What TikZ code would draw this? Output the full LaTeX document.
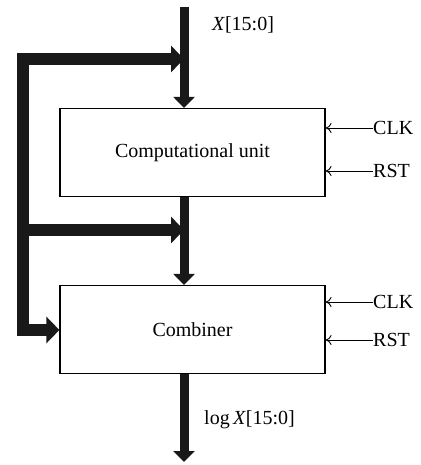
\documentclass[tikz,border=0pt]{standalone}
\usepackage{fontspec}
\setmainfont{Liberation Serif}
\usetikzlibrary{arrows.meta, positioning, calc}
\tikzset{
  unit/.style={rectangle, draw=black, line width=1.2pt, fill=white, minimum width=265pt, minimum height=88pt, inner sep=0pt, font=\fontsize{20}{24}\selectfont},
  data/.style={draw=black!90, line width=9pt, -{Triangle[length=11pt, width=21pt]}},
  bus/.style={draw=black!90, line width=12pt, miter limit=4, -{Triangle[length=13pt, width=26pt]}},
  ctrl/.style={draw=black, line width=0.9pt, -{To[length=6pt, width=10pt]}},
  lbl/.style={font=\fontsize{20}{24}\selectfont, inner sep=0pt},
}
\begin{document}
\begin{tikzpicture}[x=1pt, y=-1pt]
\useasboundingbox (0,0) rectangle (420,465);
% blocks
\node[unit] (comp) at (192.5,152.5) {Computational unit};
\node[unit] (comb) at (192.5,329.5) {Combiner};
% data path
\coordinate (xin) at (184,7);
\coordinate (xout) at (184,462);
\draw[data] (xin) -- (xin |- comp.north);
\draw[data] (xin |- comp.south) -- (xin |- comb.north);
\draw[data] (xin |- comb.south) -- (xout);
\node[lbl, anchor=west] (xlab) at (212,25) {\textit{X}[15:0]};
\node[lbl, anchor=west] (loglab) at (204,420) {log\,\textit{X}[15:0]};
% feedback bus
\coordinate (fbtop) at (23,59);
\coordinate (fbmid) at (23,230);
\coordinate (fbbot) at (23,330);
\draw[bus] (fbmid) -- (fbtop) -- (fbtop -| xin);
\draw[bus] (fbmid) -- (fbmid -| xin);
\draw[bus] (fbmid) -- (fbbot) -- (fbbot -| comb.west);
% control inputs
\foreach \blk/\yc/\yr in {comp/128/171, comb/302/340}{
  \node[lbl, anchor=west] (clk-\blk) at (373,\yc) {CLK};
  \node[lbl, anchor=west] (rst-\blk) at (373,\yr) {RST};
  \draw[ctrl] (clk-\blk.west) -- (clk-\blk.west -| \blk.east);
  \draw[ctrl] (rst-\blk.west) -- (rst-\blk.west -| \blk.east);
}
\end{tikzpicture}
\end{document}
